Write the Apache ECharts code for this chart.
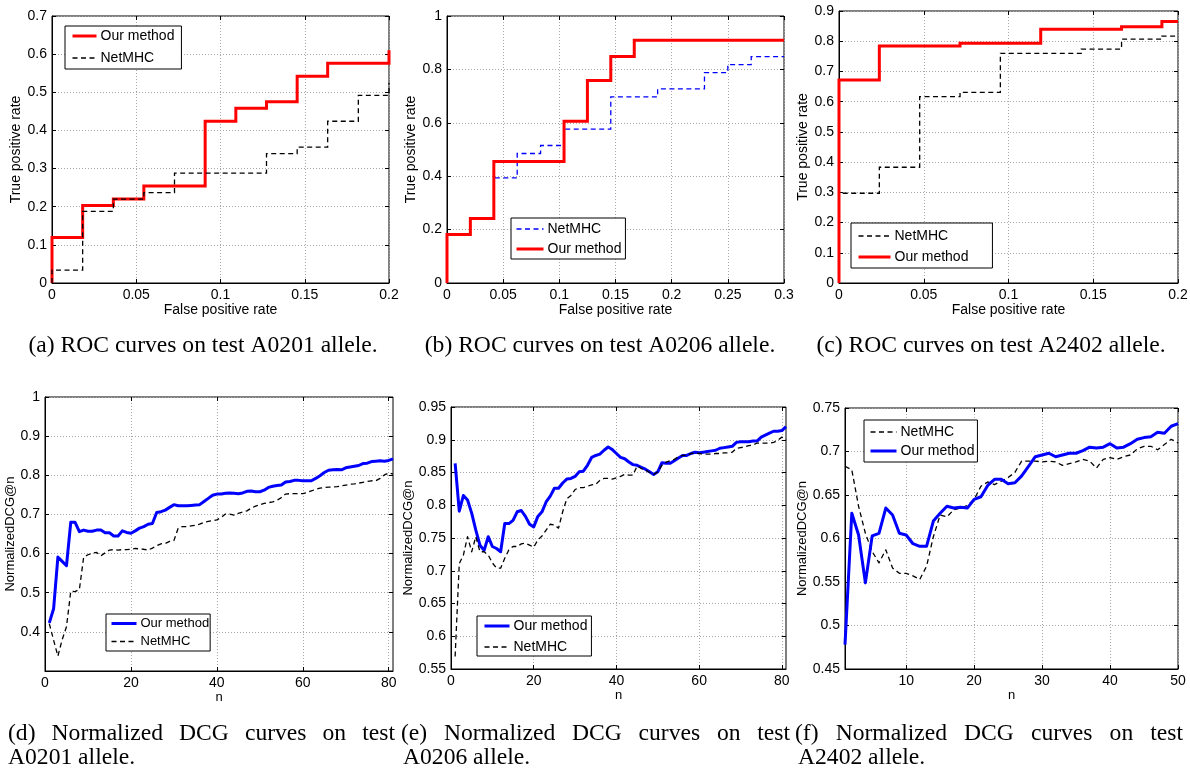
<!DOCTYPE html>
<html><head><meta charset="utf-8">
<script src="https://cdn.jsdelivr.net/npm/echarts@6/dist/echarts.min.js"></script>
<style>html,body{margin:0;padding:0;background:#fff}#c{width:1190px;height:769px}</style>
</head><body><div id="c"></div>
<script>
// ---------------- DATA ----------------
// (a) ROC, test A0201 (step corners: false positive rate / true positive rate)
const rocA_our_fpr = [0, 0, 0.0182, 0.0364, 0.0545, 0.0909, 0.1091, 0.1273, 0.1455, 0.1636, 0.2];
const rocA_our_tpr = [0, 0.119, 0.203, 0.220, 0.254, 0.424, 0.458, 0.475, 0.542, 0.576, 0.610];
const rocA_net_fpr = [0, 0, 0.0182, 0.0364, 0.0545, 0.0727, 0.1273, 0.1455, 0.1636, 0.1818, 0.2];
const rocA_net_tpr = [0, 0.034, 0.188, 0.220, 0.237, 0.288, 0.339, 0.356, 0.424, 0.492, 0.525];
// (b) ROC, test A0206
const rocB_our_fpr = [0, 0, 0.0208, 0.0417, 0.1042, 0.125, 0.1458, 0.1667, 0.3];
const rocB_our_tpr = [0, 0.182, 0.242, 0.455, 0.606, 0.758, 0.848, 0.909, 0.909];
const rocB_net_fpr = [0, 0, 0.0208, 0.0417, 0.0625, 0.0833, 0.1042, 0.1458, 0.1875, 0.2292, 0.25, 0.2708, 0.3];
const rocB_net_tpr = [0, 0.182, 0.242, 0.394, 0.485, 0.515, 0.576, 0.697, 0.727, 0.788, 0.818, 0.848, 0.848];
// (c) ROC, test A2402
const rocC_our_fpr = [0, 0, 0.0238, 0.0714, 0.119, 0.1667, 0.1905, 0.2];
const rocC_our_tpr = [0, 0.672, 0.784, 0.793, 0.840, 0.848, 0.865, 0.865];
const rocC_net_fpr = [0, 0, 0.0238, 0.0476, 0.0714, 0.0952, 0.1429, 0.1667, 0.1905, 0.2];
const rocC_net_tpr = [0, 0.297, 0.383, 0.617, 0.631, 0.760, 0.774, 0.807, 0.817, 0.817];

// (d) Normalized DCG@n, test A0201, n = 1..81
const dcgA_our = [0.423,0.459,0.591,0.580,0.569,0.680,0.680,0.656,0.660,0.657,
0.657,0.660,0.660,0.653,0.653,0.645,0.645,0.658,0.654,0.652,
0.658,0.665,0.669,0.675,0.677,0.705,0.707,0.711,0.718,0.725,
0.722,0.722,0.722,0.723,0.724,0.725,0.733,0.741,0.749,0.752,
0.752,0.754,0.755,0.754,0.753,0.755,0.759,0.760,0.758,0.758,
0.762,0.769,0.772,0.774,0.775,0.783,0.784,0.787,0.787,0.786,
0.786,0.786,0.792,0.799,0.807,0.813,0.814,0.815,0.814,0.819,
0.821,0.823,0.825,0.830,0.831,0.835,0.836,0.837,0.836,0.838,0.842];
const dcgA_net = [0.421,0.379,0.338,0.380,0.413,0.504,0.503,0.508,0.591,0.597,
0.601,0.603,0.594,0.602,0.609,0.610,0.609,0.610,0.610,0.611,
0.613,0.612,0.611,0.609,0.614,0.620,0.625,0.626,0.631,0.633,
0.665,0.669,0.669,0.671,0.672,0.675,0.680,0.682,0.684,0.686,
0.692,0.701,0.701,0.698,0.703,0.706,0.709,0.716,0.721,0.725,
0.728,0.730,0.732,0.736,0.743,0.752,0.753,0.753,0.753,0.753,
0.756,0.760,0.764,0.767,0.769,0.770,0.770,0.771,0.773,0.775,
0.777,0.778,0.780,0.782,0.784,0.786,0.786,0.792,0.801,0.806,0.803];
// (e) Normalized DCG@n, test A0206, n = 1..81
const dcgB_our = [0.864,0.791,0.815,0.808,0.788,0.762,0.739,0.731,0.752,0.737,
0.734,0.729,0.772,0.772,0.777,0.790,0.792,0.783,0.771,0.767,
0.783,0.790,0.805,0.814,0.826,0.826,0.834,0.840,0.841,0.844,
0.851,0.852,0.861,0.873,0.876,0.878,0.884,0.889,0.885,0.879,
0.873,0.871,0.866,0.862,0.861,0.858,0.855,0.851,0.847,0.851,
0.865,0.864,0.864,0.868,0.872,0.876,0.876,0.879,0.881,0.880,
0.881,0.882,0.883,0.884,0.887,0.888,0.889,0.890,0.896,0.897,
0.897,0.897,0.898,0.898,0.904,0.907,0.910,0.913,0.913,0.914,0.920];
const dcgB_net = [0.569,0.711,0.724,0.752,0.729,0.752,0.729,0.729,0.724,0.712,
0.704,0.704,0.719,0.732,0.737,0.737,0.741,0.742,0.739,0.736,
0.747,0.753,0.762,0.771,0.770,0.765,0.790,0.810,0.815,0.824,
0.827,0.827,0.829,0.831,0.832,0.838,0.841,0.841,0.840,0.842,
0.844,0.847,0.846,0.846,0.860,0.856,0.854,0.850,0.847,0.851,
0.861,0.866,0.868,0.870,0.874,0.876,0.876,0.879,0.880,0.879,
0.878,0.878,0.878,0.879,0.879,0.880,0.880,0.881,0.887,0.888,
0.889,0.891,0.892,0.895,0.895,0.895,0.895,0.896,0.899,0.904,0.900];
// (f) Normalized DCG@n, test A2402, n = 1..50
const dcgC_our = [0.478,0.629,0.604,0.549,0.603,0.606,0.635,0.627,0.606,0.604,
0.594,0.591,0.591,0.620,0.629,0.637,0.635,0.636,0.635,0.645,
0.648,0.661,0.668,0.668,0.663,0.664,0.672,0.683,0.694,0.696,
0.698,0.694,0.696,0.698,0.698,0.701,0.705,0.704,0.705,0.709,
0.704,0.705,0.709,0.714,0.716,0.717,0.722,0.721,0.729,0.732];
const dcgC_net = [0.683,0.679,0.637,0.606,0.585,0.572,0.587,0.566,0.560,0.560,
0.557,0.553,0.568,0.602,0.627,0.625,0.633,0.635,0.638,0.645,
0.660,0.665,0.662,0.666,0.670,0.676,0.689,0.689,0.689,0.688,
0.689,0.688,0.684,0.686,0.688,0.691,0.689,0.681,0.691,0.693,
0.691,0.694,0.696,0.703,0.706,0.706,0.702,0.708,0.714,0.710];

// tick values for the n axes
const ticksN81 = [0, 20, 40, 60, 80];
const ticksN50 = [10, 20, 30, 40, 50];

// text
const LABELS = {
  a_our:'Our method', a_net:'NetMHC', b_net:'NetMHC', b_our:'Our method',
  c_net:'NetMHC', c_our:'Our method', d_our:'Our method', d_net:'NetMHC',
  e_our:'Our method', e_net:'NetMHC', f_net:'NetMHC', f_our:'Our method'
};
const X_NAME_ROC = 'False positive rate';
const Y_NAME_ROC = 'True positive rate';
const X_NAME_DCG = 'n';
const Y_NAME_DCG = 'NormalizedDCG@n';
const CAPTIONS_TOP = ['(a) ROC curves on test A0201 allele.', '(b) ROC curves on test A0206 allele.', '(c) ROC curves on test A2402 allele.'];
const CAPTIONS_BOT_1 = ['(d) Normalized DCG curves on test', '(e) Normalized DCG curves on test', '(f) Normalized DCG curves on test'];
const CAPTIONS_BOT_2 = ['A0201 allele.', 'A0206 allele.', 'A2402 allele.'];

// ---------------- LAYOUT / STYLE ----------------
const SANS = '"Liberation Sans", Arial, Helvetica, sans-serif';
const SERIF = '"Liberation Serif", "Times New Roman", serif';
const RED = '#ff0000', BLUE = '#0000ff', BLACK = '#000000';
const DASH = [5, 3.5];

const GRIDS = [
  {left:52, top:16, width:337, height:267},
  {left:447, top:16, width:337, height:267},
  {left:839, top:11, width:339, height:272},
  {left:45, top:397, width:348, height:274},
  {left:451, top:407, width:335, height:262},
  {left:845, top:408, width:333, height:261}
];

const AXES = [
  {x:{min:0, max:0.2, interval:0.05, name:X_NAME_ROC, gap:18, size:14},
   y:{min:0, max:0.7, interval:0.1, name:Y_NAME_ROC, gap:27, size:14}},
  {x:{min:0, max:0.3, interval:0.05, name:X_NAME_ROC, gap:18, size:14},
   y:{min:0, max:1, interval:0.2, name:Y_NAME_ROC, gap:27, size:14}},
  {x:{min:0, max:0.2, interval:0.05, name:X_NAME_ROC, gap:18, size:14},
   y:{min:0, max:0.9, interval:0.1, name:Y_NAME_ROC, gap:26, size:14}},
  {x:{min:0, max:81, custom:ticksN81, name:X_NAME_DCG, gap:19, size:13},
   y:{min:0.3, max:1, interval:0.1, hideMin:true, name:Y_NAME_DCG, gap:21, size:13}},
  {x:{min:0, max:81, custom:ticksN81, name:X_NAME_DCG, gap:19, size:13},
   y:{min:0.55, max:0.95, interval:0.05, name:Y_NAME_DCG, gap:32, size:13}},
  {x:{min:1, max:50, custom:ticksN50, name:X_NAME_DCG, gap:19, size:13},
   y:{min:0.45, max:0.75, interval:0.05, name:Y_NAME_DCG, gap:31, size:13}}
];

const gridLine = {show:true, lineStyle:{color:'#a8a8a8', type:[1,2], width:1}};
const tickStyle = {color:'#000', width:1};

function axisPair(gi, c, dim) {
  const base = {gridIndex:gi, type:'value', min:c.min, max:c.max};
  if (c.interval) base.interval = c.interval;
  const cv = c.custom ? {customValues:c.custom} : {};
  const isX = dim === 'x';
  const main = Object.assign({}, base, {
    position: isX ? 'bottom' : 'left',
    name: c.name, nameLocation:'middle', nameGap:c.gap,
    nameRotate: isX ? 0 : 90,
    nameTextStyle:{fontFamily:SANS, fontSize:c.size, color:'#000'},
    axisLine:{show:true, onZero:false, lineStyle:{color:'#000', width:1}},
    axisTick:Object.assign({show:true, inside:true, length:4, lineStyle:tickStyle}, cv),
    axisLabel:Object.assign({show:true, margin:5, fontFamily:SANS, fontSize:14, color:'#000',
      showMinLabel: !c.hideMin, showMaxLabel: true, hideOverlap:false}, cv),
    splitLine:gridLine
  });
  const mirror = Object.assign({}, base, {
    position: isX ? 'top' : 'right',
    axisLine:{show:false, onZero:false},
    axisTick:Object.assign({show:true, inside:true, length:4, lineStyle:tickStyle}, cv),
    axisLabel:{show:false},
    splitLine:{show:false}
  });
  return [main, mirror];
}

const xAxis = [], yAxis = [];
AXES.forEach((a, i) => {
  xAxis.push(...axisPair(i, a.x, 'x'));
  yAxis.push(...axisPair(i, a.y, 'y'));
});

function stepSeries(name, gi, xs, ys, color, width, dashed) {
  return {
    type:'line', name, xAxisIndex:gi*2, yAxisIndex:gi*2,
    data: xs.map((x, i) => [x, ys[i]]),
    step:'end', symbol:'none', showSymbol:false, clip:false,
    lineStyle:{color, width, type: dashed ? DASH : 'solid', cap:'butt', join:'miter'},
    itemStyle:{color}, emphasis:{disabled:true}, silent:true
  };
}
function curveSeries(name, gi, start, ys, color, width, dashed) {
  return {
    type:'line', name, xAxisIndex:gi*2, yAxisIndex:gi*2,
    data: ys.map((v, i) => [start + i, v]),
    symbol:'none', showSymbol:false, clip:false,
    lineStyle:{color, width, type: dashed ? DASH : 'solid', join:'round'},
    itemStyle:{color}, emphasis:{disabled:true}, silent:true
  };
}

const series = [
  stepSeries('a_our', 0, rocA_our_fpr, rocA_our_tpr, RED, 3, false),
  stepSeries('a_net', 0, rocA_net_fpr, rocA_net_tpr, BLACK, 1.3, true),
  stepSeries('b_net', 1, rocB_net_fpr, rocB_net_tpr, BLUE, 1.3, true),
  stepSeries('b_our', 1, rocB_our_fpr, rocB_our_tpr, RED, 3, false),
  stepSeries('c_net', 2, rocC_net_fpr, rocC_net_tpr, BLACK, 1.3, true),
  stepSeries('c_our', 2, rocC_our_fpr, rocC_our_tpr, RED, 3, false),
  curveSeries('d_our', 3, 1, dcgA_our, BLUE, 3, false),
  curveSeries('d_net', 3, 1, dcgA_net, BLACK, 1.3, true),
  curveSeries('e_our', 4, 1, dcgB_our, BLUE, 3, false),
  curveSeries('e_net', 4, 1, dcgB_net, BLACK, 1.3, true),
  curveSeries('f_net', 5, 1, dcgC_net, BLACK, 1.3, true),
  curveSeries('f_our', 5, 1, dcgC_our, BLUE, 3, false)
];

function legendItem(name) {
  const s = series.find(q => q.name === name);
  return {name, lineStyle:{width:s.lineStyle.width, type:s.lineStyle.type, color:s.lineStyle.color}};
}
const LEGENDS = [
  {names:['a_our','a_net'], left:65, top:26, padding:[3,7,4,6], itemWidth:24, itemGap:8, fs:14},
  {names:['b_net','b_our'], left:511, top:218, padding:[4,4,3,4], itemWidth:27, itemGap:6, fs:14},
  {names:['c_net','c_our'], left:851, top:223, padding:[6,24,4,6], itemWidth:32, itemGap:7, fs:14},
  {names:['d_our','d_net'], left:106, top:614, padding:[3,1,3,4], itemWidth:25, itemGap:5, fs:13},
  {names:['e_our','e_net'], left:477, top:616, padding:[3,4,2,6], itemWidth:25, itemGap:7, fs:14},
  {names:['f_net','f_our'], left:864, top:420, padding:[5,3,4,5], itemWidth:26, itemGap:5, fs:14}
];
const legend = LEGENDS.map(L => ({
  show:true, orient:'vertical', left:L.left, top:L.top, padding:L.padding,
  itemWidth:L.itemWidth, itemHeight:14, itemGap:L.itemGap,
  backgroundColor:'#fff', borderColor:'#000', borderWidth:1, borderRadius:0,
  selectedMode:false,
  itemStyle:{opacity:0, borderWidth:0},
  textStyle:{fontFamily:SANS, fontSize:L.fs, color:'#000', padding:[0,0,0,-1]},
  formatter: n => LABELS[n],
  data: L.names.map(legendItem)
}));

// ---------------- CAPTIONS (graphic text) ----------------
const CAP_SIZE = 23.6;
const CAP_TOP_CX = [203, 600, 991];
const CAP_TOP_Y = 346;
const CAP_BOT_COLS = [[8, 395], [401, 790], [795, 1183]];
const CAP_BOT_X2 = [8, 403, 798];
const CAP_BOT_Y1 = 734, CAP_BOT_Y2 = 758;

const mctx = document.createElement('canvas').getContext('2d');
const CAP_FONT = CAP_SIZE + 'px ' + SERIF;
function textW(s) { mctx.font = CAP_FONT; return mctx.measureText(s).width; }
function capText(t, x, y) {
  return {type:'text', x, y, silent:true,
    style:{text:t, font:CAP_FONT, fill:'#000', textAlign:'left', align:'left',
      textVerticalAlign:'middle', verticalAlign:'middle'}};
}
const graphic = [];
CAPTIONS_TOP.forEach((t, i) => graphic.push(capText(t, CAP_TOP_CX[i] - textW(t) / 2, CAP_TOP_Y)));
CAPTIONS_BOT_1.forEach((t, i) => {
  const words = t.split(' ');
  const ws = words.map(textW);
  const total = ws.reduce((p, q) => p + q, 0);
  const [L, R] = CAP_BOT_COLS[i];
  const gap = (R - L - total) / (words.length - 1);
  let x = L;
  words.forEach((w, k) => { graphic.push(capText(w, x, CAP_BOT_Y1)); x += ws[k] + gap; });
});
CAPTIONS_BOT_2.forEach((t, i) => graphic.push(capText(t, CAP_BOT_X2[i], CAP_BOT_Y2)));

const chart = echarts.init(document.getElementById('c'), null, {renderer:'canvas'});
chart.setOption({
  animation:false,
  backgroundColor:'#fff',
  tooltip:{show:false},
  grid: GRIDS.map(g => Object.assign({}, g, {show:true, borderColor:'#000', borderWidth:1,
    backgroundColor:'transparent', containLabel:false, outerBoundsMode:'none'})),
  xAxis, yAxis, legend, series, graphic
});
</script>
</body></html>
